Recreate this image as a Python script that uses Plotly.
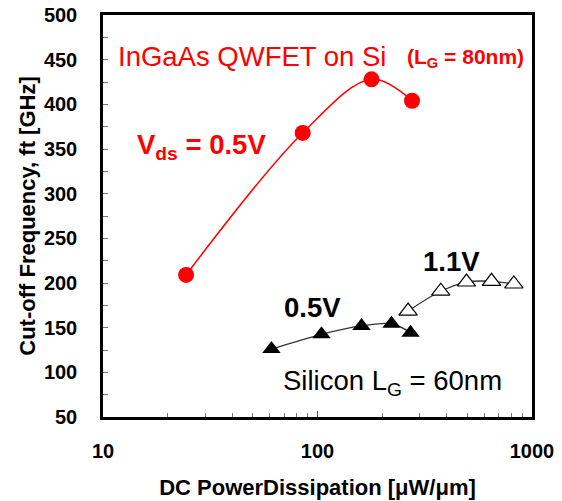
import plotly.graph_objects as go

# ---- data ----
ingaas_power = [24.4, 85.3, 178.6, 275.8]
ingaas_ft = [209, 368, 428, 404]

si05_power = [61.0, 104.4, 160.4, 221.3, 271.4]
si05_ft = [126, 142.6, 151.9, 154.4, 144.4]

si11_power = [264.5, 375.6, 495, 647.6, 822.9]
si11_ft = [168.6, 190.8, 201.1, 201.9, 198.9]

x_ticks = [10, 100, 1000]
y_ticks = [50, 100, 150, 200, 250, 300, 350, 400, 450, 500]

RED = "#FF0000"
FONT = "Liberation Sans, Arial, sans-serif"

fig = go.Figure()
fig.add_trace(go.Scatter(
    x=ingaas_power, y=ingaas_ft, mode="lines+markers",
    line=dict(color=RED, width=1.5, shape="spline", smoothing=1),
    marker=dict(symbol="circle", size=16, color=RED),
    showlegend=False))
fig.add_trace(go.Scatter(
    x=si05_power, y=si05_ft, mode="lines+markers",
    line=dict(color="#333333", width=1.3, shape="spline", smoothing=1),
    marker=dict(symbol="triangle-up", size=16, color="black"),
    showlegend=False))
fig.add_trace(go.Scatter(
    x=si11_power, y=si11_ft, mode="lines+markers",
    line=dict(color="#333333", width=1.3, shape="spline", smoothing=1),
    marker=dict(symbol="triangle-up", size=16, color="white",
                line=dict(color="black", width=1.2)),
    showlegend=False))

minor_x = [v * d for d in (10, 100) for v in range(2, 10)]

fig.update_xaxes(
    type="log", range=[1, 3], automargin=False,
    tickvals=x_ticks, ticktext=[str(v) for v in x_ticks],
    ticks="inside", ticklen=6, tickcolor="#555", tickwidth=1,
    minor=dict(tickvals=minor_x, ticks="inside", ticklen=4, tickcolor="#777", tickwidth=1),
    showline=True, linecolor="black", linewidth=2.5, mirror=True,
    showgrid=False, zeroline=False,
    tickfont=dict(family=FONT, size=20, color="black", weight="bold"),
    ticklabelstandoff=14,
    title=dict(text="DC PowerDissipation [μW/μm]", standoff=19,
               font=dict(family=FONT, size=22, color="black", weight="bold")),
)
fig.update_yaxes(
    range=[50, 500], automargin=False,
    tickvals=y_ticks,
    ticks="inside", ticklen=5, tickcolor="#777", tickwidth=1,
    minor=dict(dtick=25, ticks="inside", ticklen=5, tickcolor="#777", tickwidth=1),
    showline=True, linecolor="black", linewidth=2.5, mirror=True,
    showgrid=False, zeroline=False,
    tickfont=dict(family=FONT, size=20, color="black", weight="bold"),
    ticklabelstandoff=19,
    title=dict(text="Cut-off Frequency, ft [GHz]", standoff=3,
               font=dict(family=FONT, size=22, color="black", weight="bold")),
)

annos = [
    dict(text="InGaAs QWFET on Si", x=0.030, y=0.896, xanchor="left",
         font=dict(size=27.5, color=RED)),
    dict(text="(L<sub>G</sub> = 80nm)", x=0.704, y=0.893, xanchor="left",
         font=dict(size=21, color=RED, weight="bold")),
    dict(text="V<sub>ds</sub> = 0.5V", x=0.074, y=0.672, xanchor="left",
         font=dict(size=27.5, color=RED, weight="bold")),
    dict(text="0.5V", x=0.488, y=0.272, xanchor="center",
         font=dict(size=27.5, color="black", weight="bold")),
    dict(text="1.1V", x=0.813, y=0.386, xanchor="center",
         font=dict(size=27.5, color="black", weight="bold")),
    dict(text="Silicon L<sub>G</sub> = 60nm", x=0.414, y=0.086, xanchor="left",
         font=dict(size=27.5, color="black")),
]
for a in annos:
    a["font"]["family"] = FONT
    fig.add_annotation(xref="paper", yref="paper", yanchor="middle",
                       showarrow=False, **a)

fig.update_layout(
    width=562, height=501,
    margin=dict(l=103, r=30, t=15, b=83.5),
    paper_bgcolor="white", plot_bgcolor="white",
    font=dict(family=FONT),
)

fig.write_html("out.html", config={"displayModeBar": False},
               post_script="document.body.style.margin='0';")
